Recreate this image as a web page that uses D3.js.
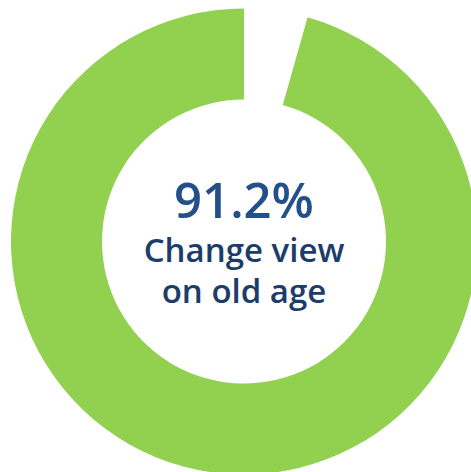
<!DOCTYPE html>
<html>
<head>
<meta charset="utf-8">
<script src="https://cdn.jsdelivr.net/npm/d3@7"></script>
<style>
  body { margin: 0; background: #fff; }
  text { font-family: "Open Sans", "Noto Sans", sans-serif; }
</style>
</head>
<body>
<svg id="donut"></svg>
<script>
// arc shares (gap at 12 o'clock, green the rest)
const sliceNames = ['gap', 'change'];
const sliceValues = [4.4, 95.6];
const sliceColors = ['none', '#92D050'];
const headline = '91.2%';
const captionLines = ['Change view', 'on old age'];

const width = 471;
const height = 472;
const cx = 244, cy = 241.5;
const outerR = 233, innerR = 142;

const svg = d3.select('#donut')
  .attr('width', width)
  .attr('height', height);

const g = svg.append('g')
  .attr('transform', `translate(${cx},${cy})`);

const pie = d3.pie()
  .sort(null)
  .value(d => d.value);

const arc = d3.arc()
  .innerRadius(innerR)
  .outerRadius(outerR);

const data = sliceNames.map((n, i) => ({ name: n, value: sliceValues[i], color: sliceColors[i] }));

g.selectAll('path')
  .data(pie(data))
  .enter()
  .append('path')
  .attr('d', arc)
  .attr('fill', d => d.data.color);

g.append('text')
  .attr('x', 0)
  .attr('y', -24)
  .attr('text-anchor', 'middle')
  .style('font-size', '49px')
  .style('font-weight', 600)
  .style('fill', '#24508A')
  .text(headline);

g.selectAll('.caption')
  .data(captionLines)
  .enter()
  .append('text')
  .attr('class', 'caption')
  .attr('x', 0)
  .attr('y', (d, i) => 20 + i * 41)
  .attr('text-anchor', 'middle')
  .style('font-size', '33px')
  .style('font-weight', 600)
  .style('fill', '#1C3D69')
  .text(d => d);
</script>
</body>
</html>
